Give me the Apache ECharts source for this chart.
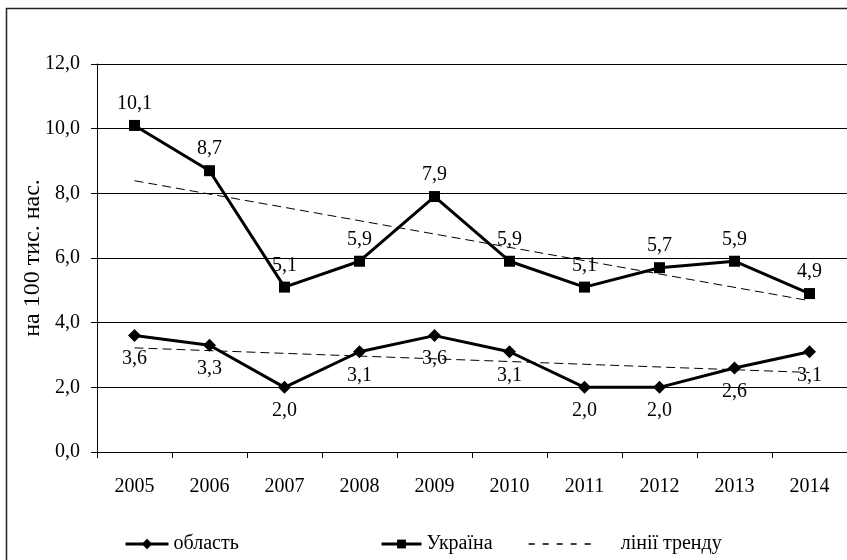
<!DOCTYPE html>
<html>
<head>
<meta charset="utf-8">
<script src="https://cdn.jsdelivr.net/npm/echarts@6/dist/echarts.min.js"></script>
<style>
  html, body { margin: 0; padding: 0; background: #fff; overflow: hidden; }
  #chart { width: 847px; height: 560px; }
</style>
</head>
<body>
<div id="chart"></div>
<script>
// Years on the category axis
const years = ['2005', '2006', '2007', '2008', '2009', '2010', '2011', '2012', '2013', '2014'];

// Rate per 100 thousand population
const oblast = [3.6, 3.3, 2.0, 3.1, 3.6, 3.1, 2.0, 2.0, 2.6, 3.1];
const ukraine = [10.1, 8.7, 5.1, 5.9, 7.9, 5.9, 5.1, 5.7, 5.9, 4.9];

// Linear trend lines: value at the first and the last year
const oblastTrend = [3.22, 2.46];
const ukraineTrend = [8.39, 4.68];

// Y axis ticks
const yTicks = [0, 2, 4, 6, 8, 10, 12];

const FONT = '"Liberation Serif", "Times New Roman", serif';
const FS = 20;
const fmt = v => v.toFixed(1).replace('.', ',');

// Spread trend endpoints over the category axis (gaps are joined)
function trendSeriesData(ends) {
  return years.map((_, i) => i === 0 ? ends[0] : (i === years.length - 1 ? ends[1] : null));
}

const chart = echarts.init(document.getElementById('chart'), null, { renderer: 'canvas' });

const labelBase = {
  show: true,
  color: '#000',
  fontFamily: FONT,
  fontSize: FS,
  formatter: p => fmt(p.value)
};

const legendText = { color: '#000', fontFamily: FONT, fontSize: FS };

chart.setOption({
  animation: false,
  backgroundColor: '#fff',
  graphic: [{
    type: 'rect',
    shape: { x: 6.5, y: 8.5, width: 900, height: 600 },
    style: { fill: 'none', stroke: '#222', lineWidth: 1.5 },
    silent: true,
    z: -1
  }],
  grid: { left: 97, right: -11, top: 64, bottom: 108 },
  xAxis: {
    type: 'category',
    data: years,
    boundaryGap: true,
    axisLine: { lineStyle: { color: '#000', width: 1 } },
    axisTick: { show: true, length: 6, lineStyle: { color: '#000' } },
    axisLabel: { color: '#000', fontFamily: FONT, fontSize: FS, margin: 25 }
  },
  yAxis: {
    type: 'value',
    min: yTicks[0],
    max: yTicks[yTicks.length - 1],
    interval: yTicks[1] - yTicks[0],
    name: 'на 100 тис. нас.',
    nameLocation: 'middle',
    nameGap: 52,
    nameMoveOverlap: false,
    nameRotate: 90,
    nameTextStyle: { color: '#000', fontFamily: FONT, fontSize: 24 },
    axisLine: { show: true, lineStyle: { color: '#000', width: 1 } },
    axisTick: { show: true, length: 6, lineStyle: { color: '#000' } },
    axisLabel: { color: '#000', fontFamily: FONT, fontSize: FS, margin: 17, formatter: v => fmt(v) },
    splitLine: { show: true, lineStyle: { color: '#000', width: 1 } }
  },
  legend: [
    {
      data: ['область'],
      left: 124, top: 534, padding: 0,
      itemWidth: 43, itemHeight: 13,
      lineStyle: { width: 3, color: '#000' },
      textStyle: legendText
    },
    {
      data: ['Україна'],
      left: 380, top: 534, padding: 0,
      itemWidth: 40, itemHeight: 11,
      lineStyle: { width: 3, color: '#000' },
      textStyle: legendText
    },
    {
      data: ['лінії тренду'],
      left: 528, top: 534, padding: 0,
      itemWidth: 65, itemHeight: 12,
      itemStyle: { opacity: 0 },
      lineStyle: { type: [6, 8], width: 1.3, color: '#000' },
      textStyle: Object.assign({}, legendText, { padding: [0, 0, 0, 22] })
    }
  ],
  series: [
    {
      name: 'область',
      type: 'line',
      data: oblast,
      symbol: 'diamond',
      symbolSize: 13,
      lineStyle: { color: '#000', width: 3 },
      itemStyle: { color: '#000' },
      label: Object.assign({}, labelBase, { position: 'bottom', distance: 7 }),
      z: 3
    },
    {
      name: 'Україна',
      type: 'line',
      data: ukraine,
      symbol: 'rect',
      symbolSize: 11,
      lineStyle: { color: '#000', width: 3 },
      itemStyle: { color: '#000' },
      label: Object.assign({}, labelBase, { position: 'top', distance: 6 }),
      z: 3
    },
    {
      name: 'лінії тренду',
      type: 'line',
      data: trendSeriesData(ukraineTrend),
      connectNulls: true,
      symbol: 'none',
      lineStyle: { color: '#000', width: 1, type: [9, 5] },
      itemStyle: { color: '#000' },
      z: 2
    },
    {
      name: 'лінії тренду',
      type: 'line',
      data: trendSeriesData(oblastTrend),
      connectNulls: true,
      symbol: 'none',
      lineStyle: { color: '#000', width: 1, type: [9, 5] },
      itemStyle: { color: '#000' },
      z: 2
    }
  ]
});
</script>
</body>
</html>
